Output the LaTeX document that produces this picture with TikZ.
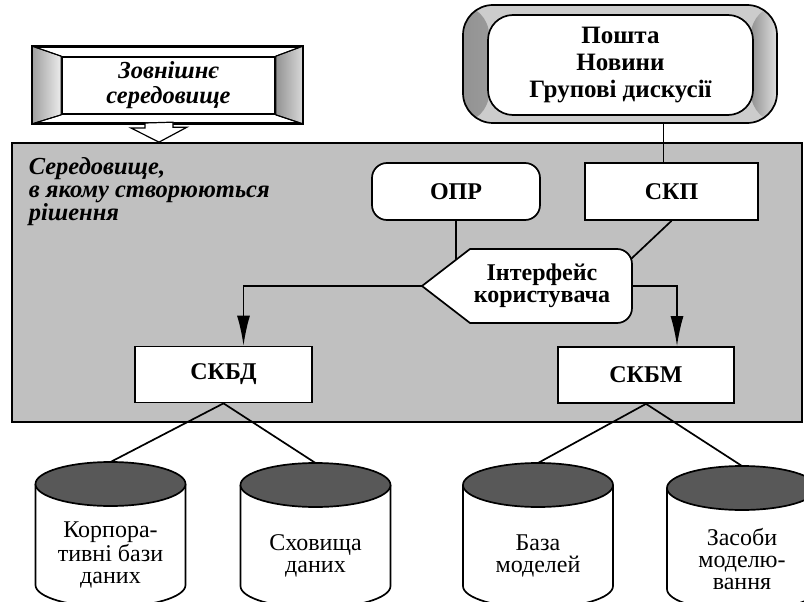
\documentclass[tikz,border=0pt]{standalone}
\usepackage{fontspec}
\setmainfont{Liberation Serif}
\usetikzlibrary{calc,arrows.meta}
\definecolor{envgray}{RGB}{192,192,192}
\definecolor{drumtop}{RGB}{88,88,88}

\begin{document}
\begin{tikzpicture}[x=1pt,y=-1pt,line width=1.7pt,
    sysbox/.style={draw,fill=white,inner sep=0pt,minimum height=57pt,font=\fontsize{24}{24}\selectfont\bfseries},
    flow/.style={-{Latex[length=30pt,width=13pt]}},
    drumtext/.style={inner sep=0pt,align=center,font=\fontsize{24}{22}\selectfont}
    ]
\useasboundingbox (0,0) rectangle (804,602); % whole picture
\node[draw,fill=envgray,minimum width=790pt,minimum height=279pt] (env) at (407,282.5) {}; % decision environment
\node[anchor=north west,inner sep=0pt,align=left,font=\fontsize{24.5}{23}\selectfont\bfseries\itshape] (envtxt) at (28,157) {Середовище,\\в якому створюються\\рішення}; % panel title
\node[draw,fill=white,minimum width=269pt,minimum height=76pt] (extout) at (167.5,85) {}; % outer frame
\node[draw,fill=white,inner sep=0pt,minimum width=213pt,minimum height=57pt,align=center,font=\fontsize{24.5}{25}\selectfont\bfseries\itshape] (ext) at (168.5,85.5) {Зовнішнє\\середовище}; % external environment
\shade[draw,line width=1pt,left color=gray!75,right color=gray!15] (extout.north west) -- (ext.north west) -- (ext.south west) -- (extout.south west) -- cycle; % left bevel
\shade[draw,line width=1pt,left color=gray!85,right color=gray!30] (ext.north east) -- (extout.north east) -- (extout.south east) -- (ext.south east) -- cycle; % right bevel
\draw[line width=1pt] (extout.north west) -- (ext.north west) (extout.north east) -- (ext.north east); % top corners
\draw[line width=1pt] (extout.south west) -- (ext.south west) (extout.south east) -- (ext.south east); % bottom corners
\draw (extout.north west) rectangle (extout.south east); % frame border again
\coordinate (arrtop) at (159,123); % block arrow start
\draw[fill=white,line width=1.2pt] ($(arrtop)+(-14,0)$) -- ++(0,5) -- ++(-14,0) -- (env.north -| arrtop) -- ++(28,-15) -- ++(-14,0) -- ++(0,-5) -- cycle; % hollow arrow
\node[draw,fill=gray!40,minimum width=314pt,minimum height=118pt,rounded corners=30pt,
    path picture={
      \shade[left color=gray!85,right color=gray!20] (path picture bounding box.north west) rectangle ([xshift=26pt]path picture bounding box.south west);
      \shade[left color=gray!85,right color=gray!25] ([xshift=-26pt]path picture bounding box.north east) rectangle (path picture bounding box.south east);
    }] (mailout) at (620,64) {}; % rounded frame
\node[draw,fill=white,inner sep=0pt,minimum width=265pt,minimum height=100pt,rounded corners=25pt,align=center,font=\fontsize{25}{27}\selectfont\bfseries] (mail) at (620.5,65) {Пошта\\Новини\\Групові дискусії}; % communication services
\node[sysbox,rounded corners=15pt,minimum width=168pt] (opr) at (456,191.5) {ОПР};
\node[sysbox,minimum width=173pt] (skp) at (671.5,191.5) {СКП};
\node[sysbox,minimum width=177pt,minimum height=56pt] (skbd) at (223.5,374.5) {СКБД};
\node[sysbox,minimum width=176pt,minimum height=56pt] (skbm) at (646,375) {СКБМ};
\coordinate (uitip) at (422,286); % pointed end of interface
\coordinate (uiright) at (632,286); % right side of interface
\coordinate (uiskp) at (631,259); % where the СКП line meets
\coordinate (uiopr) at ($(uitip)!0.7!(470,249)$); % where the ОПР line meets
\draw ([xshift=-8pt]skp.north) -- ([xshift=-8pt]skp.north |- mailout.south); % mail to СКП
\draw (opr.south) -- (opr.south |- uiopr);
\draw (skp.south) -- (uiskp);
\draw[fill=white] (uitip) -- (470,249) -- (617,249) arc[start angle=-90,end angle=0,radius=15] -- (632,308) arc[start angle=0,end angle=90,radius=15] -- (470,323) -- cycle; % interface outline
\node[inner sep=0pt,align=center,font=\fontsize{24}{22}\selectfont\bfseries] (ui) at (542,286) {Інтерфейс\\користувача};
\draw[flow] (uitip) -| ([xshift=20pt]skbd.north);
\draw[flow] (uiright) -| ([xshift=31pt]skbm.north);
\foreach \name/\cx/\cy/\txt in {kb/110.5/484/{Корпора-\\тивні бази\\даних},sk/315.5/485/{Сховища\\даних},bm/538/485/{База\\моделей},zm/742/488/{Засоби\\моделю-\\вання}}{
  \draw[fill=white] (\cx-75,\cy) -- (\cx-75,\cy+101) arc[start angle=180,end angle=0,x radius=75,y radius=22] -- (\cx+75,\cy); % drum body
  \draw[fill=drumtop] (\cx,\cy) ellipse[x radius=75,y radius=22]; % drum top
  \coordinate (\name) at (\cx,\cy-22);
  \node[drumtext] (\name-t) at (\cx,\cy+71) {\txt};
}
\draw (skbd.south) -- (kb);
\draw (skbd.south) -- (sk);
\draw (skbm.south) -- (bm);
\draw (skbm.south) -- (zm);
\end{tikzpicture}
\end{document}
